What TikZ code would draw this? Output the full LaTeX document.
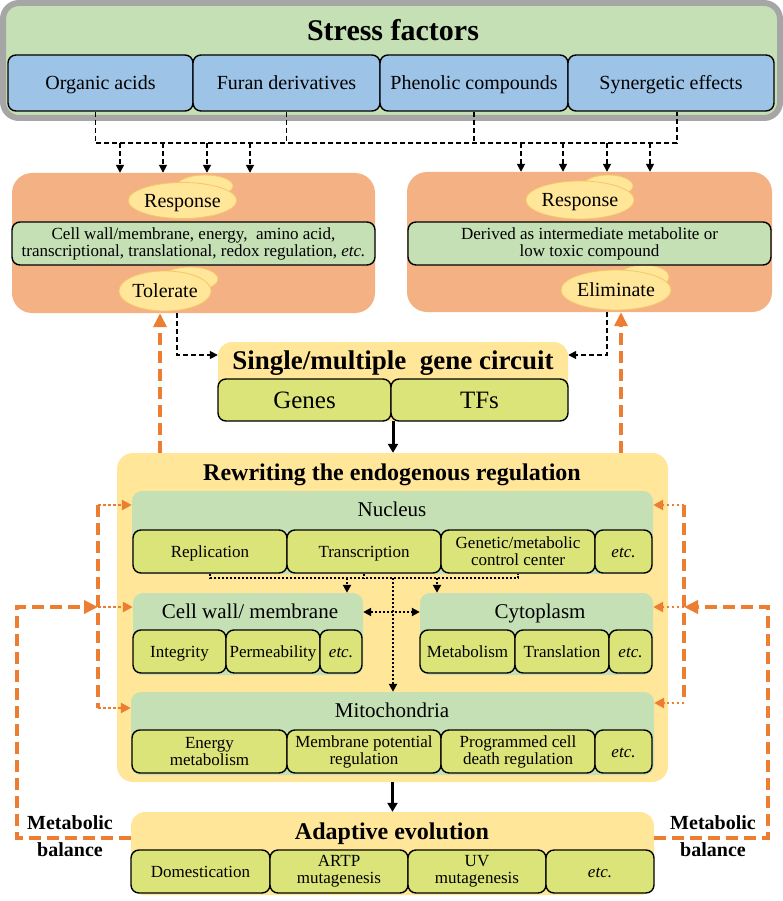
\documentclass[tikz,border=0pt]{standalone}
\usepackage{fontspec}
\setmainfont{Liberation Serif}
\usetikzlibrary{shapes.geometric,arrows.meta}
\definecolor{sfgreen}{HTML}{C5E0B4}
\definecolor{sfgray}{HTML}{A6A6A6}
\definecolor{sfblue}{HTML}{9DC3E6}
\definecolor{salmon}{HTML}{F4B183}
\definecolor{yel}{HTML}{FFE699}
\definecolor{bubedge}{HTML}{F5C76B}
\definecolor{subyel}{RGB}{218,228,120}
\definecolor{org}{HTML}{ED7D31}

\begin{document}
\begin{tikzpicture}[x=1pt,y=-1pt,
  box/.style={draw,line width=1.4pt,rounded corners=8pt,inner sep=0pt,align=center,font=\fontsize{17}{17}\selectfont},
  sub/.style={box,fill=subyel},
  one/.style={sub,text height=11.2pt,text depth=0pt},
  stress/.style={box,fill=sfblue,font=\fontsize{20}{20}\selectfont,text height=13.2pt,text depth=0pt,minimum height=56pt},
  panel/.style={fill=sfgreen,rounded corners=10pt,inner sep=0pt},
  bubble/.style={ellipse,draw=bubedge,line width=0.8pt,fill=yel,inner sep=0pt,font=\fontsize{20}{20}\selectfont,text height=13.2pt,text depth=0pt},
  bigtitle/.style={font=\fontsize{30}{30}\selectfont\bfseries,text height=19.8pt,text depth=0pt},
  title/.style={font=\fontsize{24}{24}\selectfont\bfseries,text height=15.8pt,text depth=0pt},
  head/.style={font=\fontsize{21}{21}\selectfont,text height=13.9pt,text depth=0pt},
  blkdash/.style={line width=1.6pt,dash pattern=on 5pt off 3pt,-{Triangle[length=8pt,width=8pt]}},
  blkdot/.style={line width=2pt,dash pattern=on 2pt off 2pt,-{Triangle[length=8pt,width=8pt]}},
  blkarr/.style={line width=3pt,-{Triangle[length=9pt,width=10pt]}},
  orgdash/.style={org,line width=4pt,dash pattern=on 12pt off 6pt,-{Triangle[length=14pt,width=13pt]}},
  orgdot/.style={org,line width=2.5pt,dash pattern=on 2.5pt off 2.5pt,-{Triangle[length=10pt,width=10pt]}}]
\useasboundingbox (0,0) rectangle (783,901);

% stress factors
\node [draw=sfgray,line width=6pt,fill=sfgreen,rounded corners=16pt,minimum width=777pt,minimum height=115pt] (sf) at (391.5,60.5) {};
\node [bigtitle] (sft) at (393,31) {Stress factors};
\node [stress,minimum width=185pt] (oa) at (100.5,83) {Organic acids};
\node [stress,minimum width=187pt] (fd) at (286.5,83) {Furan derivatives};
\node [stress,minimum width=188pt] (pc) at (474,83) {Phenolic compounds};
\node [stress,minimum width=206pt] (se) at (671,83) {Synergetic effects};

% response boxes
\node [fill=salmon,rounded corners=20pt,minimum width=363pt,minimum height=140pt] (rl) at (193.5,243) {};
\node [fill=salmon,rounded corners=20pt,minimum width=365pt,minimum height=140pt] (rr) at (589.5,242) {};
\node [bubble,minimum width=56pt,minimum height=22pt] (resl2) at (205,186) {};
\node [bubble,minimum width=91pt,minimum height=36pt] (resl) at (182.5,200.5) {Response};
\node [bubble,minimum width=56pt,minimum height=24pt] (tol2) at (190,279) {};
\node [bubble,minimum width=88pt,minimum height=40pt] (tol) at (165,291) {Tolerate};
\node [bubble,minimum width=50pt,minimum height=22pt] (resr2) at (608,186) {};
\node [bubble,minimum width=88pt,minimum height=38pt] (resr) at (580,200) {Response};
\node [bubble,minimum width=50pt,minimum height=24pt] (eli2) at (644,277) {};
\node [bubble,minimum width=88pt,minimum height=40pt] (eli) at (616,290) {Eliminate};
\node [box,fill=sfgreen,minimum width=363pt,minimum height=43pt] (tl) at (193.5,243.5) {Cell wall/membrane, energy,\ \ amino acid,\\transcriptional, translational, redox regulation, \textit{etc.}};
\node [box,fill=sfgreen,minimum width=363pt,minimum height=43pt] (tr) at (589.5,243.5) {Derived as intermediate metabolite or\\low toxic compound};

% gene circuit
\node [fill=yel,rounded corners=14pt,minimum width=350pt,minimum height=79pt] (gc) at (393,381.5) {};
\node [font=\fontsize{27}{27}\selectfont\bfseries,text height=17.8pt,text depth=0pt] (gct) at (393,361) {Single/multiple\ \ gene circuit};
\node [sub,font=\fontsize{25}{25}\selectfont,text height=16.5pt,text depth=0pt,minimum width=173pt,minimum height=42pt] (gen) at (304.5,400) {Genes};
\node [sub,font=\fontsize{25}{25}\selectfont,text height=16.5pt,text depth=0pt,minimum width=177pt,minimum height=42pt] (tfs) at (479.5,400) {TFs};

% rewriting the endogenous regulation
\node [fill=yel,rounded corners=16pt,minimum width=551pt,minimum height=329pt] (rw) at (392.5,617.5) {};
\node [title] (rwt) at (392,473) {Rewriting the endogenous regulation};
\node [panel,minimum width=521pt,minimum height=83pt] (nu) at (392.5,532.5) {};
\node [head] (nut) at (392,510) {Nucleus};
\node [one,minimum width=154pt,minimum height=43pt] (rep) at (210,551.5) {Replication};
\node [one,minimum width=154pt,minimum height=43pt] (tra) at (364,551.5) {Transcription};
\node [sub,minimum width=154pt,minimum height=43pt] (gmc) at (518,551.5) {Genetic/metabolic\\control center};
\node [one,minimum width=57pt,minimum height=43pt] (nuetc) at (623.5,551.5) {\textit{etc.}};
\node [panel,minimum width=230pt,minimum height=82pt] (cw) at (248,634) {};
\node [head] (cwt) at (250,612) {Cell wall/ membrane};
\node [one,minimum width=93pt,minimum height=43pt] (int) at (179.5,651.5) {Integrity};
\node [one,minimum width=94pt,minimum height=43pt] (per) at (273,651.5) {Permeability};
\node [one,minimum width=42pt,minimum height=43pt] (cwetc) at (341,651.5) {\textit{etc.}};
\node [panel,minimum width=233pt,minimum height=82pt] (cy) at (536.5,634) {};
\node [head] (cyt) at (540,612) {Cytoplasm};
\node [one,minimum width=95pt,minimum height=43pt] (met) at (467.5,651.5) {Metabolism};
\node [one,minimum width=94pt,minimum height=43pt] (trl) at (562,651.5) {Translation};
\node [one,minimum width=43pt,minimum height=43pt] (cyetc) at (630.5,651.5) {\textit{etc.}};
\node [panel,minimum width=523pt,minimum height=83pt] (mi) at (392.5,733.5) {};
\node [head] (mit) at (392,711) {Mitochondria};
\node [sub,minimum width=155pt,minimum height=43pt] (ene) at (209.5,751.5) {Energy\\metabolism};
\node [sub,minimum width=154pt,minimum height=43pt] (mpr) at (364,751.5) {Membrane potential\\regulation};
\node [sub,minimum width=154pt,minimum height=43pt] (pcd) at (518,751.5) {Programmed cell\\death regulation};
\node [one,minimum width=57pt,minimum height=43pt] (mietc) at (623.5,751.5) {\textit{etc.}};

% adaptive evolution
\node [fill=yel,rounded corners=14pt,minimum width=523pt,minimum height=83pt] (ae) at (392.5,853.5) {};
\node [title] (aet) at (392,832) {Adaptive evolution};
\node [one,minimum width=139pt,minimum height=43pt] (dom) at (200.5,871.5) {Domestication};
\node [sub,minimum width=138pt,minimum height=43pt] (artp) at (339,871.5) {ARTP\\mutagenesis};
\node [sub,minimum width=138pt,minimum height=43pt] (uv) at (477,871.5) {UV\\mutagenesis};
\node [one,minimum width=108pt,minimum height=43pt] (aeetc) at (600,871.5) {\textit{etc.}};

% stress -> response
\coordinate (bus) at (0,143);
\coordinate (oad) at ([xshift=-5pt]oa.south);
\coordinate (sed) at ([xshift=6pt]se.south);
\draw [blkdash,-] (oad) |- (bus -| sed) -- (sed);
\draw [blkdash,-] (fd.south) -- (fd.south |- bus);
\draw [blkdash,-] (pc.south) -- (pc.south |- bus);
\foreach \x in {120,163,207,250} \draw [blkdash] (\x,0 |- bus) -- (\x,0 |- rl.north);
\foreach \x in {521,563,607,650} \draw [blkdash] (\x,0 |- bus) -- (\x,0 |- rr.north);

% response -> gene circuit
\draw [blkdash] (rl.south -| 177,0) |- (gc.west |- 0,355);
\draw [blkdash] (rr.south -| 607,0) |- (gc.east |- 0,355);
\draw [orgdash] (rw.north -| 160,0) -- (rl.south -| 160,0);
\draw [orgdash] (rw.north -| 621,0) -- (rr.south -| 621,0);
\draw [blkarr] (gc.south) -- (rw.north -| gc.south);
\draw [blkarr] (rw.south) -- (ae.north -| rw.south);

% inside the cell
\coordinate (nd) at (393,578);
\draw [blkdot,-] (rep.south) |- (gmc.south |- nd) -- (gmc.south);
\draw [blkdot,-] (tra.south) -- (tra.south |- nd);
\draw [blkdot] (347,0 |- nd) -- (347,0 |- cw.north);
\draw [blkdot] (437,0 |- nd) -- (437,0 |- cy.north);
\draw [blkdot] (nd) -- (nd |- mi.north);
\draw [blkdot,{Triangle[length=8pt,width=8pt]}-{Triangle[length=8pt,width=8pt]}] (cw.east |- cwt) -- (cy.west |- cwt);

% metabolic balance
\coordinate (lt) at (98,505);
\coordinate (lm) at (98,607);
\coordinate (lb) at (98,708);
\coordinate (rt) at (684,505);
\coordinate (rm) at (684,607);
\coordinate (rb) at (684,703);
\draw [orgdash,-] (lt) -- (lb);
\draw [orgdash,-] (rt) -- (rb);
\draw [orgdot] (lt) -- (nu.west |- lt);
\draw [orgdot] (lm) -- (cw.west |- lm);
\draw [orgdot] (lb) -- (mi.west |- lb);
\draw [orgdot] (rt) -- (nu.east |- rt);
\draw [orgdot] (rm) -- (cy.east |- rm);
\draw [orgdot] (rb) -- (mi.east |- rb);
\draw [orgdash] (ae.west |- 0,838) -| (17,0 |- lm) -- (lm);
\draw [orgdash] (ae.east |- 0,838) -| (768,0 |- rm) -- (rm);
\node [align=center,font=\fontsize{20}{27}\selectfont\bfseries] (mbl) at (70,836) {Metabolic\\balance};
\node [align=center,font=\fontsize{20}{27}\selectfont\bfseries] (mbr) at (713,836) {Metabolic\\balance};
\end{tikzpicture}
\end{document}
